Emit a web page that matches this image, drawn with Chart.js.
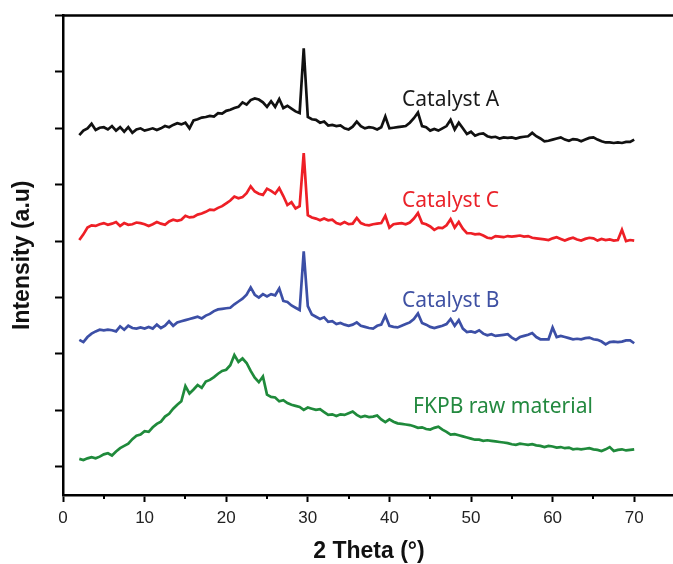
<!DOCTYPE html>
<html><head><meta charset="utf-8">
<script src="https://cdn.jsdelivr.net/npm/chart.js@4.4.1/dist/chart.umd.min.js"></script>
<style>html,body{margin:0;padding:0;background:#fff;overflow:hidden;}#wrap{width:675px;height:564px;}</style>
</head><body><div id="wrap"><canvas id="c" width="675" height="564"></canvas></div>
<script>
// 2θ (degrees)
const theta = [2,2.5,3,3.5,4,4.5,5,5.5,6,6.5,7,7.5,8,8.5,9,9.5,10,10.5,11,11.5,12,12.5,13,13.5,14,14.5,15,15.5,16,16.5,17,17.5,18,18.5,19,19.5,20,20.5,21,21.5,22,22.5,23,23.5,24,24.5,25,25.5,26,26.5,27,27.5,28,28.5,29,29.5,30,30.5,31,31.5,32,32.5,33,33.5,34,34.5,35,35.5,36,36.5,37,37.5,38,38.5,39,39.5,40,40.5,41,41.5,42,42.5,43,43.5,44,44.5,45,45.5,46,46.5,47,47.5,48,48.5,49,49.5,50,50.5,51,51.5,52,52.5,53,53.5,54,54.5,55,55.5,56,56.5,57,57.5,58,58.5,59,59.5,60,60.5,61,61.5,62,62.5,63,63.5,64,64.5,65,65.5,66,66.5,67,67.5,68,68.5,69,69.5,70];

const catalystA = [
588,596,600,608,597,601,602,598,604,596,
602,594,602,592,598,600,596,598,600,597,
600,604,602,606,609,607,610,600,614,616,
619,620,622,621,627,626,631,633,636,638,
646,642,650,653,651,646,638,648,638,652,
636,640,635,630,627,742,620,616,615,610,
612,605,606,604,605,600,598,603,612,604,
600,602,601,598,602,621,600,601,602,603,
604,610,618,628,604,602,596,599,596,600,
604,615,598,610,600,590,594,587,590,591,
586,584,585,582,584,583,584,582,584,585,
586,592,586,582,577,578,580,582,584,580,
578,581,580,577,580,583,584,580,577,575,
575,574,575,574,576,576,580];

const catalystC = [
402,412,424,428,427,430,432,429,431,434,
427,432,429,430,433,432,430,427,430,434,
431,429,435,438,436,438,445,442,443,447,
449,452,456,455,459,462,467,472,479,476,
478,485,497,488,484,482,493,489,484,494,
480,464,469,458,462,556,446,442,440,437,
440,437,438,432,430,434,430,431,441,432,
429,428,430,431,432,445,424,430,431,432,
430,433,440,450,432,430,426,420,424,423,
428,439,424,434,422,414,414,412,413,410,
406,405,409,408,407,409,408,409,410,408,
409,406,405,404,403,402,405,407,404,401,
404,406,403,401,404,406,405,401,404,402,
403,401,402,420,400,402,401];

const catalystB = [
225,221,230,236,240,243,242,243,242,240,
249,243,250,246,245,247,245,248,245,252,
246,250,258,250,256,258,260,262,264,266,
263,268,271,276,279,280,281,282,288,293,
298,305,318,305,300,306,302,306,304,316,
294,292,286,282,278,382,285,270,266,262,
265,257,258,253,255,252,250,252,256,250,
248,246,245,250,252,268,250,248,247,250,
253,256,262,272,255,252,248,246,248,250,
253,262,250,260,245,239,240,238,242,236,
233,235,232,233,234,235,229,225,230,232,
234,237,230,226,226,226,247,230,232,230,
228,226,227,226,228,229,226,225,222,217,
221,222,221,222,224,224,219];

const fkpbRaw = [
14,12,15,17,15,18,22,24,20,27,
33,37,41,49,55,57,63,62,70,76,
80,89,94,103,110,116,143,130,137,145,
140,151,154,159,165,170,172,180,198,186,
192,184,170,158,150,160,128,124,123,116,
118,113,110,108,106,101,105,103,101,102,
97,92,93,90,93,92,95,98,92,88,
90,88,89,91,84,79,84,80,77,76,
75,74,72,69,70,67,66,69,71,66,
62,57,58,56,54,52,50,48,48,46,
47,46,45,44,43,42,40,39,41,40,
39,40,38,37,35,37,36,34,35,33,
34,31,32,31,32,33,31,30,28,31,
35,28,30,31,29,30,31];

const seriesNames = ['Catalyst A', 'Catalyst C', 'Catalyst B', 'FKPB raw material'];
const seriesData = [catalystA, catalystC, catalystB, fkpbRaw];
const seriesColors = ['#111111', '#ee1f26', '#3c4fa6', '#1f8a3b'];
const labelColors = ['#1a1a1a', '#ea2229', '#3f51a3', '#23893f'];
const labelX = [41.55, 41.55, 41.55, 42.9];
const labelY = [640, 461, 284, 95];
const xTicks = [0, 10, 20, 30, 40, 50, 60, 70];
const xMinorTicks = [5, 15, 25, 35, 45, 55, 65];
const yTicks = [0, 100, 200, 300, 400, 500, 600, 700, 800];

const framePlugin = {
  id: 'frame',
  afterDraw(chart) {
    const ctx = chart.ctx, a = chart.chartArea, xs = chart.scales.x;
    ctx.save();
    ctx.strokeStyle = '#000';
    ctx.lineWidth = 2.5;
    ctx.beginPath();
    ctx.moveTo(a.left, a.top);
    ctx.lineTo(a.right, a.top);
    ctx.stroke();
    ctx.lineWidth = 2;
    xMinorTicks.forEach(v => {
      const px = Math.round(xs.getPixelForValue(v));
      ctx.beginPath();
      ctx.moveTo(px, a.bottom);
      ctx.lineTo(px, a.bottom + 4);
      ctx.stroke();
    });
    ctx.textBaseline = 'alphabetic';
    ctx.textAlign = 'left';
    ctx.font = '21px "Noto Sans"';
    seriesNames.forEach((n, i) => {
      ctx.fillStyle = labelColors[i];
      ctx.fillText(n, xs.getPixelForValue(labelX[i]), chart.scales.y.getPixelForValue(labelY[i]));
    });
    ctx.restore();
  }
};

new Chart(document.getElementById('c'), {
  type: 'line',
  data: {
    datasets: seriesNames.map((n, i) => ({
      label: n,
      data: theta.map((t, j) => ({ x: t, y: seriesData[i][j] })),
      borderColor: seriesColors[i],
      borderWidth: 2.7,
      pointRadius: 0,
      tension: 0,
      fill: false
    }))
  },
  options: {
    responsive: false,
    devicePixelRatio: 1,
    animation: false,
    layout: { padding: { top: 15.5, left: 0, right: 0, bottom: 0 } },
    plugins: { legend: { display: false }, tooltip: { enabled: false } },
    scales: {
      x: {
        type: 'linear', min: 0, max: 75,
        afterBuildTicks: s => { s.ticks = xTicks.map(v => ({ value: v })); },
        afterFit: s => { s.height = 69; },
        grid: { drawOnChartArea: false, drawTicks: true, tickLength: 7, tickWidth: 2, tickColor: '#000' },
        border: { display: true, color: '#000', width: 2.5 },
        ticks: { color: '#222', font: { size: 17, family: '"Liberation Sans", Arial, sans-serif' }, padding: 6, maxRotation: 0, autoSkip: false },
        title: { display: true, text: '2 Theta (°)', color: '#111', font: { size: 23, weight: 'bold', family: '"Liberation Sans", Arial, sans-serif', lineHeight: 1.1 }, padding: 0 }
      },
      y: {
        min: -50, max: 800,
        afterBuildTicks: s => { s.ticks = yTicks.map(v => ({ value: v })); },
        afterFit: s => { s.width = 63; },
        grid: { drawOnChartArea: false, drawTicks: true, tickLength: 8, tickWidth: 2, tickColor: '#000' },
        border: { display: true, color: '#000', width: 2.5 },
        ticks: { display: false },
        title: { display: true, text: 'Intensity (a.u)', color: '#111', font: { size: 23, weight: 'bold', family: '"Liberation Sans", Arial, sans-serif', lineHeight: 1.2 }, padding: { top: 9, bottom: 0 } }
      }
    }
  },
  plugins: [framePlugin]
});
</script>
</body></html>
